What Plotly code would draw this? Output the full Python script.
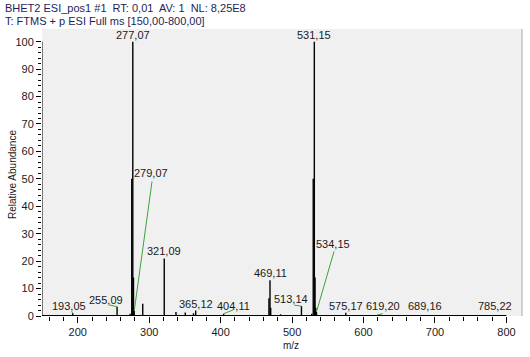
import plotly.graph_objects as go

# ---- data ----
mz = [193.05, 255.09, 273.3, 275.6, 277.07, 278.07, 279.07, 291.0, 321.09, 337.5,
      350.5, 362.0, 365.12, 404.11, 467.6, 469.11, 470.1, 484.0, 513.14, 527.5,
      529.6, 531.15, 532.15, 533.15, 534.15, 575.17, 619.20, 689.16, 785.22]
intensity = [1.0, 3.4, 0.8, 50, 100, 14, 1.8, 4.5, 21, 1.5,
             1.3, 1.0, 2.0, 0.8, 6.5, 13, 3.0, 0.6, 3.6, 0.8,
             50, 100, 14, 3.0, 1.5, 1.2, 0.4, 0.3, 0.3]

label_mz = [193.05, 255.09, 277.07, 279.07, 321.09, 365.12, 404.11, 469.11,
            513.14, 531.15, 534.15, 575.17, 619.20, 689.16, 785.22]

x_ticks = [200, 300, 400, 500, 600, 700, 800]
y_ticks = [0, 10, 20, 30, 40, 50, 60, 70, 80, 90, 100]

title_lines = ["BHET2 ESI_pos1 #1  RT: 0,01  AV: 1  NL: 8,25E8",
               "T: FTMS + p ESI Full ms [150,00-800,00]"]

# ---- layout constants ----
W, H = 530, 357
L, R, T, B = 42, 8, 29, 41
pw, ph = W - L - R, H - T - B
px_per_mz = 0.7145
x_max = 150 + pw / px_per_mz
y_max = ph / 2.743

# label text offsets (px, relative to peak top)
text_off = {
    193.05: (-4, -7), 255.09: (-11, -7), 279.07: (17, -138), 404.11: (10, -8),
    513.14: (-10, -7), 534.15: (17, -68), 619.20: (6, -9), 689.16: (-2, -9),
    785.22: (-1, -9),
}
leader_off = {
    193.05: (-2, -3), 255.09: (-9, -2), 279.07: (18, -131), 404.11: (11, -4.5),
    513.14: (-8.5, -1), 534.15: (18, -62), 619.20: (7, -1.5),
}
GREEN = "#3fa03f"
FONT = "Liberation Sans, Arial, sans-serif"

def fmt(v):
    return f"{v:.2f}".replace(".", ",")

xs, ys = [], []
for m, h in zip(mz, intensity):
    xs += [m, m, None]
    ys += [0, h, None]

fig = go.Figure()
fig.add_trace(go.Scatter(x=xs, y=ys, mode="lines",
                         line=dict(color="black", width=1.4),
                         hoverinfo="skip", showlegend=False))

ann = []
for m in label_mz:
    h = intensity[mz.index(m)]
    dx, dy = text_off.get(m, (0, -7))
    ann.append(dict(x=m, y=h, xref="x", yref="y", text=fmt(m), showarrow=False,
                    xshift=dx, yshift=-dy, xanchor="center", yanchor="middle",
                    font=dict(family=FONT, size=11, color="#1a1a1a")))
    if m in leader_off:
        lx, ly = leader_off[m]
        ann.append(dict(x=m, y=h, xref="x", yref="y", text="", showarrow=True,
                        ax=lx, ay=ly, arrowhead=0, arrowwidth=1,
                        arrowcolor=GREEN, standoff=0, startstandoff=0))

for i, t in enumerate(title_lines):
    ann.append(dict(x=(3 - L) / pw, y=1 + (T - 8 - 13 * i) / ph, xref="paper", yref="paper",
                    text=t, showarrow=False, xanchor="left", yanchor="middle",
                    font=dict(family=FONT, size=11, color="#1e1e5a")))

ann.append(dict(x=(12 - L) / pw, y=(T + ph - 175) / ph, xref="paper", yref="paper",
                text="Relative Abundance", showarrow=False, textangle=-90,
                xanchor="center", yanchor="middle",
                font=dict(family=FONT, size=10, color="#1a1a1a")))
ann.append(dict(x=(291 - L) / pw, y=-(345 - T - ph) / ph, xref="paper", yref="paper",
                text="m/z", showarrow=False, xanchor="center", yanchor="middle",
                font=dict(family=FONT, size=10, color="#1a1a1a")))

shapes = [
    dict(type="line", xref="paper", yref="paper", x0=1, x1=1, y0=0, y1=1,
         line=dict(color="#a8a8a8", width=1)),
    dict(type="line", xref="x", yref="y", x0=150, x1=800, y0=0, y1=0,
         line=dict(color="black", width=2)),
    dict(type="line", xref="x", yref="y", x0=150, x1=150, y0=0, y1=100,
         line=dict(color="black", width=1)),
]

fig.update_layout(
    width=W, height=H,
    margin=dict(l=L, r=R, t=T, b=B, pad=0, autoexpand=False),
    paper_bgcolor="white", plot_bgcolor="#f0f0f0",
    font=dict(family=FONT, size=11, color="#1a1a1a"),
    annotations=ann, shapes=shapes, showlegend=False,
    xaxis=dict(range=[150, x_max], showgrid=False, zeroline=False, showline=False,
               automargin=False,
               tickmode="array", tickvals=x_ticks, ticktext=[str(v) for v in x_ticks],
               ticks="outside", ticklen=6, tickwidth=1, tickcolor="black",
               tickfont=dict(family=FONT, size=11, color="#1a1a1a"),
               minor=dict(tickmode="array", tickvals=list(range(160, 801, 20)),
                          ticks="outside", ticklen=4, tickwidth=1, tickcolor="black")),
    yaxis=dict(range=[0, y_max], showgrid=False, zeroline=False, showline=False,
               automargin=False,
               tickmode="array", tickvals=y_ticks, ticktext=[str(v) for v in y_ticks],
               ticks="outside", ticklen=5, tickwidth=1, tickcolor="black",
               tickfont=dict(family=FONT, size=11, color="#1a1a1a"),
               minor=dict(tickmode="array", tickvals=list(range(0, 101, 2)),
                          ticks="outside", ticklen=3, tickwidth=1, tickcolor="black")),
)

fig.write_html("out.html", config={"displayModeBar": False},
               post_script="document.body.style.margin='0';document.body.style.padding='0';")
